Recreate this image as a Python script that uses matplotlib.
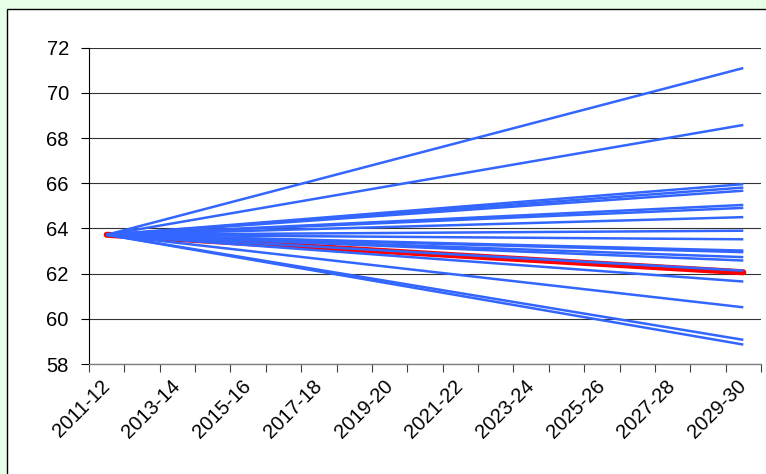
import numpy as np
import matplotlib.pyplot as plt
from matplotlib.patches import Rectangle

plt.rcParams["font.family"] = ["Liberation Sans", "DejaVu Sans"]

# financial years on the category axis
years = [f"{y}-{str(y + 1)[2:]}" for y in range(2011, 2030)]

# every projection runs from the common 2011-12 value to its 2029-30 value
start_value = 63.72
blue_end = [71.1, 68.58, 65.96, 65.81, 65.67, 65.04, 64.91, 64.50, 63.90,
            63.52, 63.02, 62.95, 62.73, 62.58, 62.13, 61.65, 60.51, 59.07,
            58.86]
red_end = 62.06

yticks = [58, 60, 62, 64, 66, 68, 70, 72]

fig = plt.figure(figsize=(7.66, 4.74), dpi=100)
fig.patch.set_facecolor("#e6ffe6")
fig.patches.append(Rectangle((7 / 766, -0.1), 1.1, 1.1 - 9 / 474,
                             transform=fig.transFigure, facecolor="white",
                             edgecolor="black", linewidth=1.0, zorder=-5))

ax = fig.add_axes([89 / 766, 1 - 364 / 474, 672 / 766, (364 - 47.7) / 474])
ax.set_facecolor("none")

x_ends = [0, len(years) - 1]
ax.plot(x_ends, [start_value, red_end], color="#ff0000", lw=4.4,
        solid_capstyle="round", zorder=3)
for v in blue_end:
    ax.plot(x_ends, [start_value, v], color="#3366ff", lw=1.8,
            solid_capstyle="butt", zorder=4)

ax.set_xlim(-0.5, len(years) - 0.5)
ax.set_ylim(58, 72)
ax.set_yticks(yticks)
ax.set_yticklabels([str(t) for t in yticks], fontsize=14.5)
ax.tick_params(axis="y", length=6, width=0.8, pad=8.5, color="black")
ax.yaxis.grid(True, color="#333333", lw=0.8)
ax.set_axisbelow(True)

ax.set_xticks(np.arange(-0.5, len(years), 1.0))
ax.set_xticklabels([])
ax.set_xticks(np.arange(0, len(years), 2), minor=True)
ax.set_xticklabels(years[::2], minor=True, fontsize=14.5, rotation=45,
                   ha="right", va="center", rotation_mode="anchor")
ax.tick_params(axis="x", which="major", length=6, width=0.8, color="#404040")
ax.tick_params(axis="x", which="minor", length=0, pad=14)

for s in ["top", "right"]:
    ax.spines[s].set_visible(False)
ax.spines["left"].set_color("black")
ax.spines["left"].set_linewidth(0.8)
ax.spines["bottom"].set_color("#808080")
ax.spines["bottom"].set_linewidth(1.0)

fig.savefig("out.png", dpi=100, facecolor=fig.get_facecolor())
